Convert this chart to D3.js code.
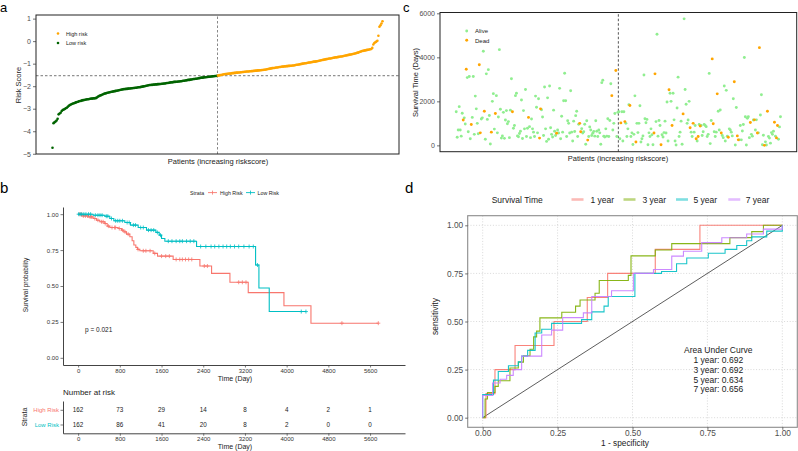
<!DOCTYPE html>
<html><head><meta charset="utf-8">
<script src="https://cdn.jsdelivr.net/npm/d3@7/dist/d3.min.js"></script>
<style>html,body{margin:0;padding:0;background:#fff;} svg{display:block;}</style>
</head><body>
<svg id="chart" width="798" height="451"></svg>
<script>
// ================= DATA =================
// panel a: sorted risk scores (162 low risk, then 162 high risk)
const riskScore = [
-4.73,-3.64,-3.60,-3.57,-3.52,-3.45,-3.25,-3.21,-3.18,-3.10,
-3.06,-3.04,-3.01,-2.98,-2.96,-2.91,-2.87,-2.84,-2.81,-2.79,
-2.77,-2.76,-2.74,-2.72,-2.70,-2.69,-2.67,-2.66,-2.65,-2.63,
-2.62,-2.61,-2.60,-2.59,-2.58,-2.58,-2.57,-2.56,-2.55,-2.55,
-2.54,-2.54,-2.53,-2.52,-2.48,-2.45,-2.43,-2.41,-2.39,-2.37,
-2.35,-2.33,-2.32,-2.30,-2.29,-2.28,-2.27,-2.26,-2.25,-2.24,
-2.23,-2.22,-2.21,-2.20,-2.19,-2.18,-2.17,-2.16,-2.15,-2.14,
-2.13,-2.13,-2.12,-2.12,-2.11,-2.10,-2.10,-2.09,-2.09,-2.08,
-2.08,-2.07,-2.07,-2.06,-2.05,-2.05,-2.04,-2.03,-2.02,-2.01,
-2.00,-1.99,-1.98,-1.97,-1.96,-1.95,-1.95,-1.94,-1.94,-1.93,
-1.93,-1.92,-1.92,-1.91,-1.91,-1.90,-1.90,-1.89,-1.89,-1.88,
-1.88,-1.87,-1.86,-1.86,-1.85,-1.84,-1.83,-1.83,-1.82,-1.81,
-1.81,-1.80,-1.80,-1.79,-1.79,-1.78,-1.78,-1.77,-1.76,-1.76,
-1.75,-1.74,-1.73,-1.72,-1.72,-1.71,-1.70,-1.69,-1.68,-1.68,
-1.67,-1.67,-1.66,-1.65,-1.64,-1.63,-1.62,-1.62,-1.61,-1.60,
-1.60,-1.59,-1.59,-1.58,-1.58,-1.57,-1.57,-1.56,-1.56,-1.55,
-1.55,-1.54,
-1.53,-1.52,-1.51,-1.50,-1.49,-1.48,-1.47,-1.46,
-1.46,-1.45,-1.45,-1.44,-1.44,-1.43,-1.42,-1.42,-1.41,-1.41,
-1.40,-1.40,-1.39,-1.39,-1.38,-1.38,-1.37,-1.37,-1.36,-1.36,
-1.35,-1.35,-1.35,-1.34,-1.34,-1.33,-1.33,-1.32,-1.32,-1.31,
-1.31,-1.30,-1.30,-1.29,-1.29,-1.28,-1.28,-1.27,-1.27,-1.26,
-1.25,-1.24,-1.23,-1.22,-1.21,-1.20,-1.19,-1.19,-1.18,-1.17,
-1.17,-1.16,-1.15,-1.15,-1.14,-1.13,-1.13,-1.12,-1.12,-1.11,
-1.11,-1.10,-1.10,-1.09,-1.09,-1.08,-1.08,-1.07,-1.06,-1.05,
-1.05,-1.04,-1.03,-1.02,-1.01,-1.00,-0.99,-0.98,-0.98,-0.97,
-0.96,-0.95,-0.95,-0.94,-0.93,-0.92,-0.91,-0.91,-0.90,-0.89,
-0.88,-0.87,-0.86,-0.85,-0.84,-0.83,-0.82,-0.81,-0.80,-0.79,
-0.78,-0.77,-0.77,-0.76,-0.75,-0.74,-0.73,-0.72,-0.72,-0.71,
-0.70,-0.69,-0.68,-0.68,-0.67,-0.66,-0.65,-0.64,-0.63,-0.62,
-0.61,-0.60,-0.59,-0.58,-0.57,-0.56,-0.55,-0.54,-0.52,-0.51,
-0.49,-0.47,-0.46,-0.44,-0.43,-0.42,-0.41,-0.40,-0.39,-0.38,
-0.37,-0.36,-0.35,-0.30,-0.15,-0.08,-0.05,-0.02,0.02,0.24,
0.64,0.70,0.78,0.88
];
const lowRiskCount = 162;
const riskLegend = ["High risk","Low risk"];

// panel c: survival time (days) per patient, same order; status 1 = dead
const survTime = [
1530,370,700,1760,700,420,1460,1150,1250,970,
3460,3080,620,3130,300,950,1270,3130,500,2240,
1660,1000,530,3660,570,1200,1250,4280,1550,280,
3250,1180,3440,1360,60,600,2000,2350,740,1450,
2260,570,1290,4350,1640,330,430,1500,320,1150,
1580,980,1080,350,1600,3030,1530,780,900,2260,
2370,430,390,540,640,2060,310,1580,750,2540,
400,780,1270,850,350,1200,750,600,400,2240,
1730,570,2120,330,1660,1620,1290,450,2650,750,
180,2160,280,2700,800,500,380,1600,640,450,
550,700,560,2590,300,1320,600,2030,3280,2030,
400,1120,1000,560,2480,600,200,1100,630,1350,
1550,400,960,1000,620,760,560,620,960,50,
1120,240,400,840,700,450,550,630,420,1120,
640,400,700,570,50,2850,2960,420,380,750,
420,1210,400,1130,2800,2260,700,1000,1450,3400,
400,1500,
1530,300,1020,1530,200,1530,1080,1000,400,750,
1850,1810,400,570,40,500,2250,150,1000,580,
1000,1800,150,300,430,3200,1210,1030,1180,30,
570,400,750,480,30,560,3250,1080,5050,420,
1130,900,30,480,380,580,1100,560,1970,200,
2530,2370,2000,900,2370,1160,200,20,1700,3100,
400,600,1100,50,1430,5750,2540,1870,1000,1150,
2000,800,600,400,1000,600,900,300,200,400,
950,880,900,450,620,950,900,850,400,500,
3270,80,1130,3930,980,620,400,600,2340,1550,
700,1610,560,450,350,2700,200,2500,420,370,
750,700,600,430,2120,2890,20,1720,430,250,
250,900,250,650,950,3990,1300,20,1230,1300,
350,1040,500,420,1150,1160,700,1160,560,570,
4440,1380,2300,30,460,0,160,20,1550,400,
330,100,580,500,640,1050,420,340,900,280,
840,1300
];
const survStatus = [
0,0,0,0,0,0,0,1,0,0,
1,0,0,0,0,1,0,0,0,0,
0,0,0,1,1,0,0,0,1,0,
0,0,0,0,0,1,0,0,0,1,
0,0,0,0,0,0,0,0,0,0,
0,0,0,0,0,0,1,0,0,0,
0,0,0,0,0,0,0,0,0,0,
0,0,1,0,0,0,0,0,0,0,
0,0,0,1,1,0,0,0,0,0,
0,0,0,0,0,0,0,0,0,0,
1,0,0,0,0,0,0,0,0,0,
0,0,0,0,0,0,0,0,0,0,
0,0,0,1,1,0,0,0,0,0,
0,1,0,0,0,0,0,0,0,0,
0,0,0,0,0,0,0,0,0,0,
0,0,0,0,0,1,0,0,0,1,
0,0,
0,0,1,0,0,0,1,0,0,0,
0,1,0,0,0,0,0,1,0,0,
0,0,0,0,0,0,0,0,0,0,
0,0,0,0,0,1,1,0,0,0,
0,0,1,0,0,0,0,0,0,0,
1,0,0,1,0,0,0,0,0,0,
0,0,0,0,1,0,0,0,0,0,
0,1,0,0,1,0,0,1,0,1,
0,1,0,0,0,0,0,0,0,0,
0,0,0,1,1,0,0,0,1,0,
0,0,1,0,0,0,0,0,0,1,
0,0,0,0,0,1,0,0,1,1,
0,0,0,0,0,0,0,0,0,0,
0,1,0,0,0,1,0,0,1,0,
1,0,0,0,0,1,0,0,1,0,
0,0,0,0,0,1,0,1,1,0,
0,0
];
const statusLegend = ["Alive","Dead"];

// panel b: Kaplan-Meier steps
const kmStrata = ["High Risk","Low Risk"];
const kmHighTime = [0,64,192,288,352,416,512,557,608,768,832,877,928,992,1036,1069,1107,1139,1184,1440,1523,1823,2336,2560,2912,3263,3948,4466];
const kmHighSurv = [1,0.988,0.981,0.970,0.958,0.947,0.935,0.917,0.907,0.900,0.889,0.877,0.861,0.843,0.815,0.785,0.769,0.755,0.745,0.727,0.708,0.685,0.639,0.588,0.526,0.454,0.363,0.241];
const kmHighEnd = 5758;
const kmHighCensor = [30,60,100,140,180,230,260,320,380,450,480,520,580,650,700,720,790,850,900,960,1150,1250,1300,1380,1470,1600,1680,1750,1880,1950,2000,2060,2120,2180,2420,2480,3080,3150,3220,5060,5758];
const kmLowTime = [0,288,512,608,685,896,1004,1152,1312,1491,1555,1600,1664,2272,3404,3468,3666];
const kmLowSurv = [1,0.993,0.986,0.970,0.954,0.942,0.924,0.907,0.889,0.873,0.854,0.831,0.812,0.775,0.646,0.486,0.322];
const kmLowEnd = 4370;
const kmLowCensor = [10,40,70,110,150,200,240,330,380,420,460,540,570,640,720,760,800,850,940,980,1060,1100,1200,1250,1350,1400,1450,1520,1580,1730,1800,1880,1950,2000,2080,2150,2220,2350,2450,2550,2620,2700,2780,2850,2920,3000,3080,3180,3280,3360,3440,4280,4370];
const pValueLabel = "p = 0.021";

// risk table
const riskTimes = [0,800,1600,2400,3200,4000,4800,5600];
const atRiskHigh = [162,73,29,14,8,4,2,1];
const atRiskLow = [162,86,41,20,8,2,0,0];

// panel d: time-dependent ROC (step vertices: fpr where tpr jumps, new tpr)
const rocYears = ["1 year","3 year","5 year","7 year"];
const rocAUC = [0.692,0.692,0.634,0.656];
const roc1Fpr = [0,0.011,0.041,0.108,0.238,0.349,0.417,0.576,0.725,1];
const roc1Tpr = [0,0.125,0.25,0.375,0.5,0.625,0.75,0.875,1,1];
const roc3Fpr = [0,0.008,0.016,0.041,0.052,0.091,0.119,0.136,0.158,0.170,0.180,0.191,0.264,0.310,0.325,0.375,0.389,0.486,0.495,0.576,0.631,0.825,0.898,0.937,1];
const roc3Tpr = [0,0.097,0.131,0.163,0.192,0.258,0.289,0.322,0.356,0.42,0.45,0.519,0.548,0.58,0.612,0.647,0.713,0.74,0.841,0.872,0.905,0.936,0.967,1,1];
const roc5Fpr = [0,0,0.036,0.052,0.086,0.119,0.130,0.150,0.175,0.197,0.230,0.330,0.364,0.405,0.419,0.508,0.597,0.647,0.681,0.753,0.809,0.848,0.881,0.898,0.948,1];
const roc5Tpr = [0,0.12,0.195,0.24,0.27,0.29,0.32,0.35,0.44,0.46,0.49,0.51,0.55,0.58,0.63,0.75,0.76,0.80,0.83,0.855,0.875,0.895,0.92,0.94,0.97,1];
const roc7Fpr = [0,0,0.033,0.058,0.080,0.102,0.130,0.197,0.230,0.267,0.336,0.364,0.430,0.503,0.570,0.631,0.670,0.731,0.798,0.881,0.937,1];
const roc7Tpr = [0,0.115,0.18,0.20,0.22,0.25,0.32,0.43,0.455,0.52,0.545,0.63,0.66,0.75,0.77,0.84,0.865,0.91,0.935,0.955,0.98,1];

// ================= DRAW =================
const F = '"Liberation Sans", Arial, Helvetica, sans-serif';
const svg = d3.select("#chart");
svg.append("rect").attr("width",798).attr("height",451).attr("fill","#fff");

function txt(g,x,y,s,o={}){
  const t = g.append("text").attr("x",x).attr("y",y).text(s)
    .attr("font-family",F).attr("font-size",o.size||7)
    .attr("fill",o.fill||"#000").attr("text-anchor",o.anchor||"start");
  if(o.rotate) t.attr("transform",`rotate(-90,${x},${y})`);
  return t;
}
function styleAxis(g,fs,col,lineCol){
  g.selectAll("text").attr("font-size",fs).attr("fill",col).attr("font-family",F);
  g.selectAll(".tick line").attr("stroke",lineCol||"#333").attr("stroke-width",0.7);
}
const fmtInt = d3.format("d");

// panel labels
txt(svg,0,12,"a",{size:13});
txt(svg,403,12,"c",{size:13});
txt(svg,0,193,"b",{size:15});
txt(svg,405,193,"d",{size:15});

// ---------- panel a ----------
const nPat = riskScore.length;
const padI = (nPat-1)*0.05;
const xA = d3.scaleLinear().domain([1-padI, nPat+padI]).range([36,399]);
const eA = d3.extent(riskScore), pA = (eA[1]-eA[0])*0.05;
const yA = d3.scaleLinear().domain([eA[0]-pA, eA[1]+pA]).range([154,15]);
const gA = svg.append("g");
const cutIdx = lowRiskCount + 0.5;
const cutScore = (riskScore[lowRiskCount-1]+riskScore[lowRiskCount])/2;
gA.append("line").attr("x1",xA(cutIdx)).attr("x2",xA(cutIdx)).attr("y1",yA.range()[0]).attr("y2",yA.range()[1])
  .attr("stroke","#888").attr("stroke-width",1).attr("stroke-dasharray","2.5,2");
gA.append("line").attr("x1",xA.range()[0]).attr("x2",xA.range()[1]).attr("y1",yA(cutScore)).attr("y2",yA(cutScore))
  .attr("stroke","#777").attr("stroke-width",1).attr("stroke-dasharray","2.5,2");
const colHigh = "#FFA500", colLow = "#006400";
gA.selectAll("circle.pt").data(riskScore).join("circle")
  .attr("cx",(d,i)=>xA(i+1)).attr("cy",d=>yA(d)).attr("r",1.3)
  .attr("fill",(d,i)=> i<lowRiskCount ? colLow : colHigh);
gA.append("rect").attr("x",36).attr("y",15).attr("width",363).attr("height",139)
  .attr("fill","none").attr("stroke","#222").attr("stroke-width",1);
const axA = gA.append("g").attr("transform","translate(36,0)")
  .call(d3.axisLeft(yA).tickValues(d3.range(-5,2)).tickSize(3).tickPadding(2).tickFormat(fmtInt));
axA.select(".domain").remove(); styleAxis(axA,7,"#4d4d4d");
txt(gA,21,85,"Risk Score",{size:7.5,anchor:"middle",rotate:true,fill:"#222"});
txt(gA,218,164,"Patients (increasing riskscore)",{size:7.5,anchor:"middle",fill:"#222"});
[colHigh,colLow].forEach((c,i)=>{
  gA.append("circle").attr("cx",58).attr("cy",33.5+i*9.5).attr("r",1.3).attr("fill",c);
  txt(gA,66,35.5+i*9.5,riskLegend[i],{size:5.5,fill:"#222"});
});

// ---------- panel c ----------
const xC = d3.scaleLinear().domain(xA.domain()).range([440,796.7]);
const eC = d3.extent(survTime), pC = (eC[1]-eC[0])*0.05;
const yC = d3.scaleLinear().domain([eC[0]-pC, eC[1]+pC]).range([151.7,12.5]);
const gC = svg.append("g");
gC.append("line").attr("x1",xC(cutIdx)).attr("x2",xC(cutIdx)).attr("y1",151.7).attr("y2",12.5)
  .attr("stroke","#444").attr("stroke-width",0.9).attr("stroke-dasharray","2.5,2");
const colAlive = "#90EE90", colDead = "#FFA500";
const cData = survTime.map((t,i)=>({i:i+1,t:t,s:survStatus[i]}));
gC.selectAll("circle.pt").data(cData.filter(d=>d.s===0).concat(cData.filter(d=>d.s===1))).join("circle")
  .attr("cx",d=>xC(d.i)).attr("cy",d=>yC(d.t)).attr("r",1.45)
  .attr("fill",d=> d.s===1 ? colDead : colAlive);
gC.append("rect").attr("x",440).attr("y",12.5).attr("width",356.7).attr("height",139.2)
  .attr("fill","none").attr("stroke","#222").attr("stroke-width",1);
const axC = gC.append("g").attr("transform","translate(440,0)")
  .call(d3.axisLeft(yC).tickValues([0,2000,4000,6000]).tickSize(3).tickPadding(2).tickFormat(fmtInt));
axC.select(".domain").remove(); styleAxis(axC,7,"#4d4d4d");
txt(gC,418,82.5,"Survival Time (Days)",{size:7.5,anchor:"middle",rotate:true,fill:"#222"});
txt(gC,618,161,"Patients (increasing riskscore)",{size:7.5,anchor:"middle",fill:"#222"});
[colAlive,colDead].forEach((c,i)=>{
  gC.append("circle").attr("cx",466.7).attr("cy",31+i*9.3).attr("r",1.45).attr("fill",c);
  txt(gC,475,33.3+i*9.3,statusLegend[i],{size:6,fill:"#222"});
});

// ---------- panel b ----------
const colKMH = "#F8766D", colKML = "#00BFC4";
const xB = d3.scaleLinear().domain([-290,6270]).range([63,405]);
const yB = d3.scaleLinear().domain([-0.05,1.05]).range([365,207]);
const gB = svg.append("g");
function stepAt(times,surv,t){ let s=surv[0]; for(let i=0;i<times.length;i++){ if(times[i]<=t) s=surv[i]; } return s; }
const kmLine = d3.line().x(d=>xB(d[0])).y(d=>yB(d[1])).curve(d3.curveStepAfter);
[[kmHighTime,kmHighSurv,kmHighEnd,kmHighCensor,colKMH],[kmLowTime,kmLowSurv,kmLowEnd,kmLowCensor,colKML]].forEach(([T,S,E,C,col])=>{
  const pts = T.map((t,i)=>[t,S[i]]).concat([[E,S[S.length-1]]]);
  gB.append("path").attr("d",kmLine(pts)).attr("fill","none").attr("stroke",col).attr("stroke-width",1.1);
  gB.selectAll(null).data(C).join("path")
    .attr("d",t=>{const x=xB(t),y=yB(stepAt(T,S,t));return `M${x-2},${y}h4M${x},${y-2}v4`;})
    .attr("stroke",col).attr("stroke-width",0.8).attr("fill","none");
});
const axBy = gB.append("g").attr("transform","translate(63,0)")
  .call(d3.axisLeft(yB).tickValues([0,0.25,0.5,0.75,1]).tickSize(2.5).tickSizeOuter(0).tickPadding(2).tickFormat(d3.format(".2f")));
axBy.select(".domain").attr("stroke","#444").attr("stroke-width",1);
styleAxis(axBy,6,"#333","#444");
const axBx = gB.append("g").attr("transform","translate(0,365)")
  .call(d3.axisBottom(xB).tickValues(riskTimes).tickSize(2.5).tickSizeOuter(0).tickPadding(2).tickFormat(fmtInt));
axBx.select(".domain").attr("stroke","#444").attr("stroke-width",1);
styleAxis(axBx,6,"#333","#444");
axBx.selectAll("text").attr("dy","0.6em");
txt(gB,235,380.5,"Time (Day)",{size:7,anchor:"middle",fill:"#222"});
txt(gB,28,285,"Survival probability",{size:6.5,anchor:"middle",rotate:true,fill:"#222"});
txt(gB,85,332,pValueLabel,{size:6.5,fill:"#222"});
// legend
txt(gB,190,194.5,"Strata",{size:5.3,fill:"#222"});
[[208,colKMH,220],[246,colKML,257.5]].forEach(([x0,col,tx],i)=>{
  gB.append("line").attr("x1",x0).attr("x2",x0+9).attr("y1",192.6).attr("y2",192.6).attr("stroke",col).attr("stroke-width",0.9);
  gB.append("path").attr("d",`M${x0+4.5},${190.6}v4`).attr("stroke",col).attr("stroke-width",0.8);
  txt(gB,tx,194.5,kmStrata[i],{size:5.3,fill:"#222"});
});

// risk table
const gR = svg.append("g");
txt(gR,63,395,"Number at risk",{size:8,fill:"#222"});
const yR = d3.scalePoint().domain(["Low Risk","High Risk"]).range([433.3,401]).padding(0.6);
const axRy = gR.append("g").attr("transform","translate(63,0)")
  .call(d3.axisLeft(yR).tickSize(2.5).tickSizeOuter(0).tickPadding(1.5));
axRy.select(".domain").attr("stroke","#444").attr("stroke-width",1);
styleAxis(axRy,6,"#333","#444");
axRy.selectAll(".tick text").attr("fill",d=> d==="High Risk" ? colKMH : colKML);
const axRx = gR.append("g").attr("transform","translate(0,433.3)")
  .call(d3.axisBottom(xB).tickValues(riskTimes).tickSize(2.5).tickSizeOuter(0).tickPadding(2).tickFormat(fmtInt));
axRx.select(".domain").attr("stroke","#444").attr("stroke-width",1);
styleAxis(axRx,6,"#333","#444");
axRx.selectAll("text").attr("dy","0.6em");
txt(gR,235,449,"Time (Day)",{size:7,anchor:"middle",fill:"#222"});
txt(gR,27,417,"Strata",{size:7,anchor:"middle",rotate:true,fill:"#222"});
[[atRiskHigh,"High Risk"],[atRiskLow,"Low Risk"]].forEach(([arr,k])=>{
  arr.forEach((v,i)=>{ txt(gR,xB(riskTimes[i]),yR(k)+2.2,String(v),{size:6.3,anchor:"middle",fill:"#222"}); });
});

// ---------- panel d ----------
const rocCols = ["#F8766D","#7CAE00","#00BFC4","#C77CFF"];
const rocData = [[roc1Fpr,roc1Tpr],[roc3Fpr,roc3Tpr],[roc5Fpr,roc5Tpr],[roc7Fpr,roc7Tpr]];
const xD = d3.scaleLinear().domain([-0.05,1.05]).range([467.7,797.3]);
const yD = d3.scaleLinear().domain([-0.05,1.05]).range([427.3,215.7]);
const gD = svg.append("g");
const brk = [0,0.25,0.5,0.75,1];
brk.forEach(b=>{
  gD.append("line").attr("x1",xD(b)).attr("x2",xD(b)).attr("y1",215.7).attr("y2",427.3)
    .attr("stroke","#c8c8c8").attr("stroke-width",0.7).attr("stroke-dasharray","1,1.8");
  gD.append("line").attr("y1",yD(b)).attr("y2",yD(b)).attr("x1",467.7).attr("x2",797.3)
    .attr("stroke","#c8c8c8").attr("stroke-width",0.7).attr("stroke-dasharray","1,1.8");
});
gD.append("line").attr("x1",xD(0)).attr("y1",yD(0)).attr("x2",xD(1)).attr("y2",yD(1))
  .attr("stroke","#333").attr("stroke-width",0.8);
const rocLine = d3.line().x(d=>xD(d[0])).y(d=>yD(d[1])).curve(d3.curveStepAfter);
rocData.forEach(([fp,tp],k)=>{
  const pts = fp.map((f,i)=>[f,tp[i]]);
  gD.append("path").attr("d",rocLine(pts)).attr("fill","none").attr("stroke",rocCols[k])
    .attr("stroke-width",1.1).attr("stroke-opacity",0.9);
});
gD.append("rect").attr("x",467.7).attr("y",215.7).attr("width",329.6).attr("height",211.6)
  .attr("fill","none").attr("stroke","#8c8c8c").attr("stroke-width",1.1);
const axDx = gD.append("g").attr("transform","translate(0,427.3)")
  .call(d3.axisBottom(xD).tickValues(brk).tickSize(2.5).tickPadding(0.5).tickFormat(d3.format(".2f")));
axDx.select(".domain").remove(); styleAxis(axDx,8.3,"#4d4d4d");
const axDy = gD.append("g").attr("transform","translate(467.7,0)")
  .call(d3.axisLeft(yD).tickValues(brk).tickSize(2.5).tickPadding(2).tickFormat(d3.format(".2f")));
axDy.select(".domain").remove(); styleAxis(axDy,8.3,"#4d4d4d");
txt(gD,625,446,"1 - specificity",{size:8.3,anchor:"middle",fill:"#222"});
txt(gD,438,316.5,"sensitivity",{size:8.5,anchor:"middle",rotate:true,fill:"#222"});
txt(gD,718.3,353,"Area Under Curve",{size:8.5,anchor:"middle",fill:"#222"});
rocYears.forEach((y,i)=>{
  txt(gD,718.3,363+i*9.8,`${y}: ${d3.format(".3f")(rocAUC[i])}`,{size:8.5,anchor:"middle",fill:"#222"});
});
// legend
txt(gD,491.7,202.5,"Survival Time",{size:8.5,fill:"#222"});
const keyX = [571.5,623.5,676,728.3];
const labX = [590.5,642.5,693.5,745.7];
rocYears.forEach((y,i)=>{
  gD.append("line").attr("x1",keyX[i]).attr("x2",keyX[i]+12).attr("y1",199.5).attr("y2",199.5)
    .attr("stroke",rocCols[i]).attr("stroke-width",2.6).attr("stroke-opacity",0.5);
  txt(gD,labX[i],202.5,y,{size:8.5,fill:"#222"});
});
</script>
</body></html>
